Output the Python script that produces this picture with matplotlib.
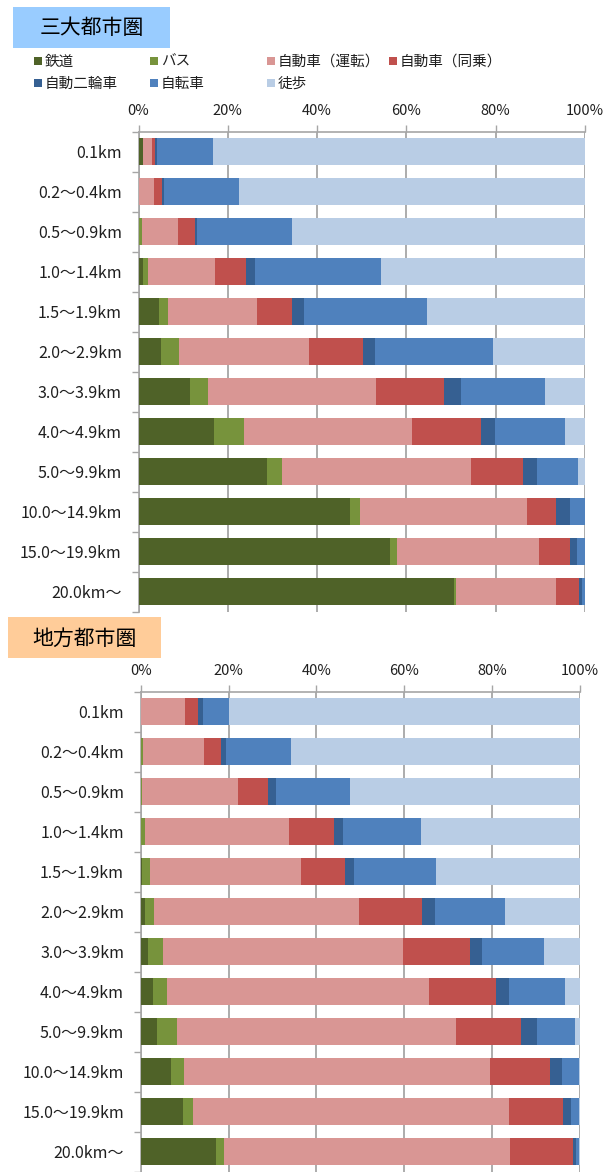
import matplotlib
matplotlib.use("Agg")
import matplotlib.pyplot as plt
from matplotlib.patches import Rectangle
import numpy as np

plt.rcParams['font.family'] = ['Noto Sans CJK JP', 'DejaVu Sans']

categories = ["0.1km", "0.2～0.4km", "0.5～0.9km", "1.0～1.4km", "1.5～1.9km",
              "2.0～2.9km", "3.0～3.9km", "4.0～4.9km", "5.0～9.9km",
              "10.0～14.9km", "15.0～19.9km", "20.0km～"]

modes = ["鉄道", "バス", "自動車（運転）", "自動車（同乗）", "自動二輪車", "自転車", "徒歩"]
colors = ["#4F6228", "#77933C", "#D99694", "#C0504D", "#366092", "#4F81BD", "#B9CDE5"]

# 三大都市圏 (%)
metro_rail      = [1.0, 0.0, 0.1, 0.9, 4.6, 5.1, 11.6, 16.8, 28.8, 47.4, 56.4, 70.7]
metro_bus       = [0.0, 0.0, 0.6, 1.3, 2.1, 3.9, 3.9, 6.8, 3.4, 2.1, 1.5, 0.4]
metro_car_drive = [2.1, 3.4, 8.1, 15.0, 19.8, 29.2, 37.6, 37.6, 42.2, 37.4, 31.9, 22.3]
metro_car_pass  = [0.6, 1.9, 3.9, 6.9, 7.8, 12.0, 15.3, 15.6, 11.8, 6.5, 6.8, 5.3]
metro_moto      = [0.5, 0.4, 0.4, 1.9, 2.7, 2.7, 3.8, 3.1, 3.1, 3.3, 1.5, 0.6]
metro_bicycle   = [12.4, 16.9, 21.2, 28.4, 27.6, 26.5, 18.8, 15.7, 9.1, 3.3, 1.9, 0.7]
metro_walk      = [83.4, 77.4, 65.7, 45.6, 35.4, 20.6, 9.0, 4.4, 1.6, 0.0, 0.0, 0.0]

# 地方都市圏 (%)
local_rail      = [0.0, 0.0, 0.1, 0.1, 0.2, 0.9, 1.7, 2.7, 3.6, 7.0, 9.7, 17.1]
local_bus       = [0.0, 0.5, 0.2, 0.8, 1.9, 2.1, 3.3, 3.3, 4.7, 2.9, 2.1, 1.9]
local_car_drive = [10.0, 14.0, 21.9, 32.8, 34.5, 46.7, 54.6, 59.7, 63.4, 69.5, 72.0, 65.1]
local_car_pass  = [3.0, 3.8, 6.8, 10.2, 9.8, 14.3, 15.4, 15.2, 14.9, 13.8, 12.3, 14.2]
local_moto      = [1.1, 1.1, 1.7, 2.1, 2.1, 3.1, 2.8, 2.9, 3.5, 2.7, 1.8, 0.7]
local_bicycle   = [5.9, 14.7, 17.0, 17.7, 18.7, 15.8, 13.9, 12.7, 8.8, 3.9, 1.9, 0.8]
local_walk      = [80.0, 65.9, 52.3, 36.3, 32.8, 17.1, 8.3, 3.5, 1.1, 0.2, 0.2, 0.2]

metro = [metro_rail, metro_bus, metro_car_drive, metro_car_pass, metro_moto, metro_bicycle, metro_walk]
local = [local_rail, local_bus, local_car_drive, local_car_pass, local_moto, local_bicycle, local_walk]

xticks = [0, 20, 40, 60, 80, 100]
xticklabels = ["0%", "20%", "40%", "60%", "80%", "100%"]

W, H = 616, 1172
fig = plt.figure(figsize=(W / 100, H / 100), dpi=100)
fig.patch.set_facecolor("white")

TEXT = "#1f1f1f"
GRID = "#A6A6A6"


def px_axes(left, top, right, bottom):
    return fig.add_axes([left / W, 1 - bottom / H, (right - left) / W, (bottom - top) / H])


def draw_panel(ax, series):
    n = len(categories)
    y = np.arange(n)
    left = np.zeros(n)
    for vals, c in zip(series, colors):
        v = np.array(vals, dtype=float)
        ax.barh(y, v, left=left, height=0.67, color=c, edgecolor="none", zorder=3)
        left += v
    ax.set_xlim(0, 100)
    ax.set_ylim(n - 0.5, -0.5)
    ax.xaxis.tick_top()
    ax.set_xticks(xticks)
    ax.set_xticklabels(xticklabels)
    ax.tick_params(axis="x", direction="out", length=5, width=1, color=GRID,
                   labelsize=10.5, labelcolor=TEXT, pad=5)
    ax.set_yticks(y)
    ax.set_yticklabels(categories)
    ax.set_yticks(np.arange(n + 1) - 0.5, minor=True)
    ax.tick_params(axis="y", which="major", length=0, labelsize=11.5, labelcolor=TEXT, pad=12)
    ax.tick_params(axis="y", which="minor", direction="out", length=5, width=1, color=GRID)
    ax.grid(axis="x", color=GRID, linewidth=1.3, zorder=0)
    ax.set_axisbelow(True)
    for s in ("right", "bottom"):
        ax.spines[s].set_visible(False)
    for s in ("top", "left"):
        ax.spines[s].set_color(GRID)
        ax.spines[s].set_linewidth(1.2)


def title_box(x0, y0, x1, y1, color, text):
    fig.patches.append(Rectangle((x0 / W, 1 - y1 / H), (x1 - x0) / W, (y1 - y0) / H,
                                 transform=fig.transFigure, facecolor=color,
                                 edgecolor="none", zorder=0))
    fig.text((x0 + x1) / 2 / W, 1 - (y0 + y1 + 2) / 2 / H, text, ha="center", va="center",
             fontsize=15, color="black")


# 三大都市圏
title_box(13, 7, 170, 48, "#99CCFF", "三大都市圏")

legend_pos = [(34, 61), (150, 61), (267, 61), (389, 61),
              (34, 83), (150, 83), (267, 83)]
for (lx, ly), name, c in zip(legend_pos, modes, colors):
    fig.patches.append(Rectangle((lx / W, 1 - (ly + 4) / H), 8 / W, 8 / H,
                                 transform=fig.transFigure, facecolor=c,
                                 edgecolor="none"))
    fig.text((lx + 11) / W, 1 - (ly + 1) / H, name, ha="left", va="center",
             fontsize=10.5, color=TEXT)

ax1 = px_axes(138.5, 131.7, 585, 611.7)
draw_panel(ax1, metro)

# 地方都市圏
title_box(8, 617, 161, 658, "#FFCC99", "地方都市圏")

ax2 = px_axes(140.7, 691.7, 580, 1171.7)
draw_panel(ax2, local)

fig.savefig("out.png", dpi=100)
